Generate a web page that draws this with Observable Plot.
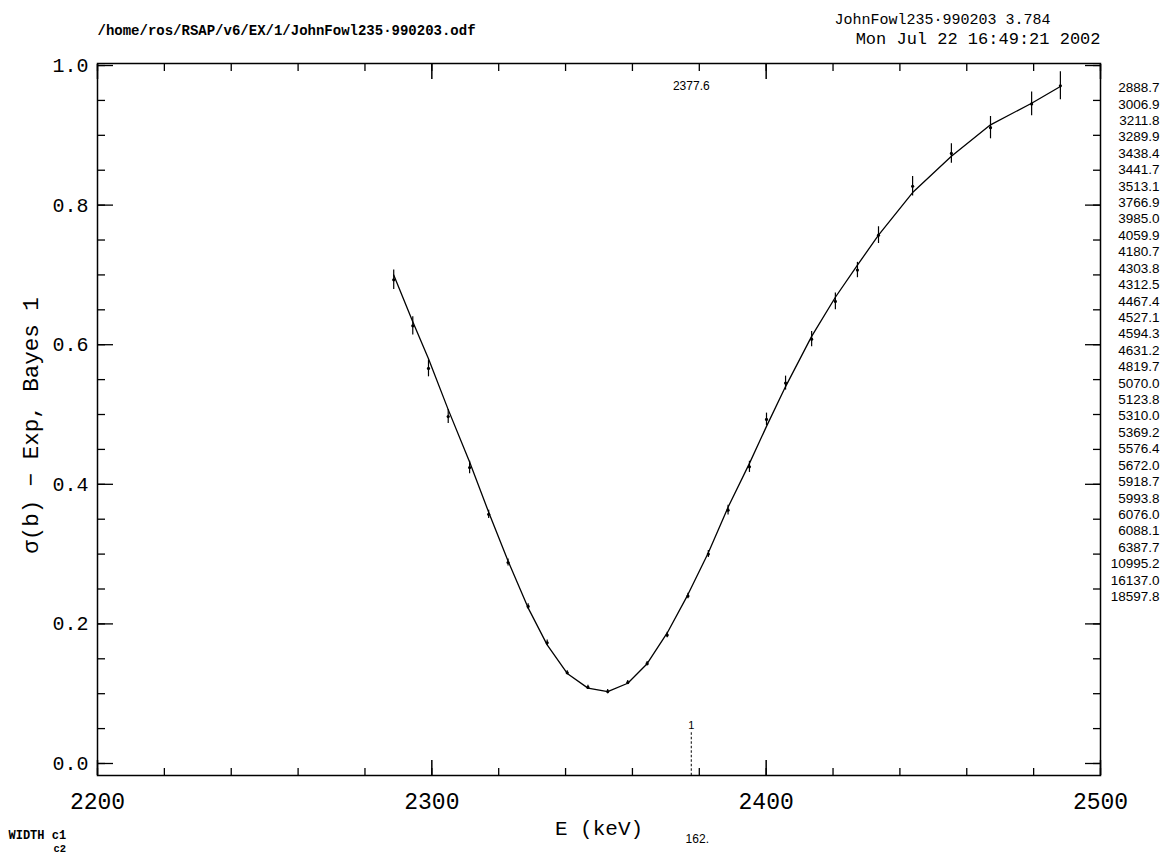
<!DOCTYPE html>
<html><head><meta charset="utf-8">
<script src="https://cdn.jsdelivr.net/npm/d3@7"></script>
<script src="https://cdn.jsdelivr.net/npm/@observablehq/plot@0.6"></script>
<style>body{margin:0;background:#fff}</style>
</head><body><div id="chart"></div>
<script>
// ---- data ----
const energy   = [2288.6,2294.3,2299.0,2304.9,2311.3,2317.0,2322.8,2328.8,2334.5,2340.5,2346.7,2352.6,2358.6,2364.4,2370.4,2376.6,2382.7,2388.6,2395.0,2400.1,2405.8,2413.6,2420.7,2427.3,2433.6,2443.8,2455.4,2467.1,2479.4,2488.0];
const sigma    = [0.693,0.627,0.566,0.497,0.424,0.357,0.288,0.225,0.173,0.130,0.109,0.103,0.116,0.143,0.184,0.240,0.300,0.363,0.425,0.493,0.545,0.608,0.662,0.707,0.757,0.827,0.874,0.911,0.945,0.971];
const sigmaErr = [0.014,0.013,0.012,0.010,0.009,0.006,0.005,0.004,0.004,0.003,0.003,0.003,0.003,0.003,0.004,0.004,0.005,0.007,0.008,0.009,0.010,0.011,0.012,0.011,0.012,0.014,0.014,0.016,0.017,0.020];
const fitValue = [0.700,0.633,0.580,0.507,0.432,0.360,0.290,0.223,0.170,0.129,0.108,0.103,0.115,0.143,0.187,0.242,0.302,0.367,0.430,0.483,0.540,0.612,0.668,0.714,0.757,0.818,0.870,0.915,0.946,0.970];
const xMajorTicks = [2200,2300,2400,2500];
const xMinorTicks = [2200,2220,2240,2260,2280,2300,2320,2340,2360,2380,2400,2420,2440,2460,2480,2500];
const yMajorTicks = [0,0.2,0.4,0.6,0.8,1.0];
const yMinorTicks = [0,0.05,0.1,0.15,0.2,0.25,0.3,0.35,0.4,0.45,0.5,0.55,0.6,0.65,0.7,0.75,0.8,0.85,0.9,0.95,1.0];
const rightList = ["2888.7","3006.9","3211.8","3289.9","3438.4","3441.7","3513.1","3766.9","3985.0","4059.9","4180.7","4303.8","4312.5","4467.4","4527.1","4594.3","4631.2","4819.7","5070.0","5123.8","5310.0","5369.2","5576.4","5672.0","5918.7","5993.8","6076.0","6088.1","6387.7","10995.2","16137.0","18597.8"];
const markerEnergy = 2377.6;
const markerTop = 0.044;
const yDomain = [-0.0172, 1.0029];
const xDomain = [2200, 2500];
const headerLeft = "/home/ros/RSAP/v6/EX/1/JohnFowl235\u00b7990203.odf";
const headerRight1 = "JohnFowl235\u00b7990203 3.784";
const headerRight2 = "Mon Jul 22 16:49:21 2002";
const xLabel = "E (keV)";
const yLabel = "\u03c3(b) \u2212 Exp, Bayes 1";

const rows = energy.map((e, i) => ({e, s: sigma[i], lo: sigma[i] - sigmaErr[i], hi: sigma[i] + sigmaErr[i], f: fitValue[i]}));

const mono = "'Liberation Mono', 'DejaVu Sans Mono', monospace";
const sans = "'Liberation Sans', Arial, sans-serif";

const plot = Plot.plot({
  width: 1160, height: 856,
  marginLeft: 97, marginRight: 60, marginTop: 63, marginBottom: 81,
  style: {background: "white", color: "black", fontFamily: mono},
  x: {domain: xDomain},
  y: {domain: yDomain},
  marks: [
    // minor ticks (inward)
    Plot.axisX({anchor: "bottom", ticks: xMinorTicks, tickSize: 7, dy: -7, fill: "none", label: null, strokeWidth: 1.3}),
    Plot.axisX({anchor: "top", ticks: xMinorTicks, tickSize: 7, dy: 7, fill: "none", label: null, strokeWidth: 1.3}),
    Plot.axisY({anchor: "left", ticks: yMinorTicks, tickSize: 8, dx: 8, fill: "none", label: null, strokeWidth: 1.3}),
    Plot.axisY({anchor: "right", ticks: yMinorTicks, tickSize: 8, dx: -8, fill: "none", label: null, strokeWidth: 1.3}),
    // major ticks (inward)
    Plot.axisX({anchor: "bottom", ticks: xMajorTicks, tickSize: 15, dy: -15, fill: "none", label: null, strokeWidth: 1.5}),
    Plot.axisX({anchor: "top", ticks: xMajorTicks, tickSize: 15, dy: 15, fill: "none", label: null, strokeWidth: 1.5}),
    Plot.axisY({anchor: "left", ticks: yMajorTicks, tickSize: 16, dx: 16, fill: "none", label: null, strokeWidth: 1.3}),
    Plot.axisY({anchor: "right", ticks: yMajorTicks, tickSize: 16, dx: -16, fill: "none", label: null, strokeWidth: 1.3}),
    // tick labels
    Plot.axisX({anchor: "bottom", ticks: xMajorTicks, tickSize: 0, tickPadding: 17, fontSize: 23, label: null, tickFormat: d => String(d)}),
    Plot.axisY({anchor: "left", ticks: yMajorTicks, tickSize: 0, tickPadding: 9, fontSize: 20, label: null, tickFormat: d3.format(".1f")}),
    Plot.frame({stroke: "black", strokeWidth: 1.5}),
    // data
    Plot.ruleX(rows, {x: "e", y1: "lo", y2: "hi", stroke: "black", strokeWidth: 1.2}),
    Plot.line(rows, {x: "e", y: "f", stroke: "black", strokeWidth: 1.3}),
    Plot.dot(rows, {x: "e", y: "s", r: 1.6, fill: "black", stroke: "none"}),
    // marker
    Plot.ruleX([markerEnergy], {x: d => d, y1: markerTop, y2: yDomain[0], stroke: "black", strokeWidth: 1, strokeDasharray: "2.5,2"}),
    Plot.text([markerEnergy], {x: d => d, y: markerTop, dy: -7, text: () => "1", fontSize: 11, fontFamily: sans}),
    Plot.text([markerEnergy], {x: d => d, frameAnchor: "top", dy: 23, lineAnchor: "middle", text: d => d.toFixed(1), fontSize: 12, fontFamily: sans}),
    Plot.text(["162."], {x: () => markerEnergy, frameAnchor: "bottom", dx: 6, dy: 64, lineAnchor: "middle", text: d => d, fontSize: 12, fontFamily: sans}),
    // axis titles
    Plot.text([xLabel], {frameAnchor: "bottom", dy: 53, lineAnchor: "middle", text: d => d, fontSize: 21}),
    Plot.text([yLabel], {frameAnchor: "left", dx: -67, dy: 6, rotate: -90, textAnchor: "middle", lineAnchor: "middle", text: d => d, fontSize: 22.5}),
    // headers
    Plot.text([headerLeft], {frameAnchor: "top-left", dy: -33, textAnchor: "start", lineAnchor: "middle", text: d => d, fontSize: 14, fontWeight: "bold"}),
    Plot.text([headerRight1], {frameAnchor: "top-right", dx: -50, dy: -44, textAnchor: "end", lineAnchor: "middle", text: d => d, fontSize: 15}),
    Plot.text([headerRight2], {frameAnchor: "top-right", dx: 0, dy: -25, textAnchor: "end", lineAnchor: "middle", text: d => d, fontSize: 17}),
    // right list
    Plot.text([rightList.join("\n")], {frameAnchor: "top-right", dx: 59, dy: 17, textAnchor: "end", lineAnchor: "top", lineHeight: 1.216, fontSize: 13.5, fontFamily: sans, text: d => d}),
    // bottom-left caption
    Plot.text(["WIDTH c1"], {frameAnchor: "bottom-left", dx: -89, dy: 60, textAnchor: "start", lineAnchor: "middle", text: d => d, fontSize: 12, fontWeight: "bold"}),
    Plot.text(["c2"], {frameAnchor: "bottom-left", dx: -44, dy: 73, textAnchor: "start", lineAnchor: "middle", text: d => d, fontSize: 10.5, fontWeight: "bold"})
  ]
});
document.getElementById("chart").appendChild(plot);
</script>
</body></html>
